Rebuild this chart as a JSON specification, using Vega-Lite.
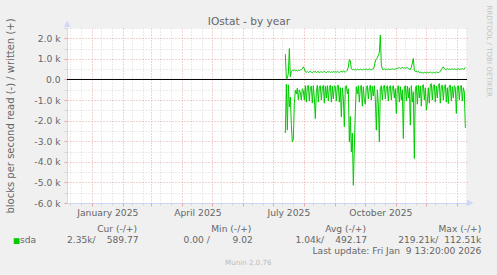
{
  "$schema": "https://vega.github.io/schema/vega-lite/v6.json",
  "background": "#f0f0f0",
  "autosize": {"type": "pad"},
  "padding": {"left": 5, "top": 5, "right": 5, "bottom": 9},
  "bounds": "flush",
  "spacing": 28.5,
  "config": {
    "font": "DejaVu Sans",
    "view": {"stroke": null},
    "axis": {"labelFont": "DejaVu Sans", "titleFont": "DejaVu Sans", "labelColor": "#666666", "titleColor": "#666666", "labelFontSize": 9.2, "titleFontWeight": "normal"},
    "text": {"font": "DejaVu Sans"}
  },
  "vconcat": [
    {
      "width": 400,
      "height": 175,
      "view": {"fill": "#ffffff", "stroke": null},
      "data": {"values": [
        {"d":"2025-07-13","r":-2600,"w":1230},{"d":"2025-07-14","r":-230,"w":40},{"d":"2025-07-15","r":-2460,"w":60},{"d":"2025-07-16","r":-260,"w":300},{"d":"2025-07-17","r":-1330,"w":1500},{"d":"2025-07-18","r":-850,"w":130},{"d":"2025-07-19","r":-2200,"w":400},{"d":"2025-07-20","r":-3030,"w":450},{"d":"2025-07-21","r":-2900,"w":420},{"d":"2025-07-22","r":-1170,"w":470},{"d":"2025-07-23","r":-520,"w":430},{"d":"2025-07-24","r":-700,"w":440},{"d":"2025-07-25","r":-420,"w":410},{"d":"2025-07-26","r":-980,"w":450},{"d":"2025-07-27","r":-500,"w":430},{"d":"2025-07-28","r":-620,"w":460},{"d":"2025-07-29","r":-1000,"w":480},{"d":"2025-07-30","r":-450,"w":520},{"d":"2025-07-31","r":-560,"w":615},
        {"d":"2025-08-01","r":-1000,"w":520},{"d":"2025-08-02","r":-300,"w":380},{"d":"2025-08-03","r":-1100,"w":350},{"d":"2025-08-04","r":-350,"w":390},{"d":"2025-08-05","r":-280,"w":340},{"d":"2025-08-06","r":-1050,"w":370},{"d":"2025-08-07","r":-400,"w":400},{"d":"2025-08-08","r":-320,"w":350},{"d":"2025-08-09","r":-1150,"w":330},{"d":"2025-08-10","r":-300,"w":380},{"d":"2025-08-11","r":-900,"w":360},{"d":"2025-08-12","r":-1900,"w":400},{"d":"2025-08-13","r":-600,"w":340},{"d":"2025-08-14","r":-280,"w":370},{"d":"2025-08-15","r":-1100,"w":390},{"d":"2025-08-16","r":-350,"w":320},{"d":"2025-08-17","r":-300,"w":360},{"d":"2025-08-18","r":-1000,"w":380},{"d":"2025-08-19","r":-420,"w":340},{"d":"2025-08-20","r":-280,"w":370},{"d":"2025-08-21","r":-1150,"w":400},{"d":"2025-08-22","r":-330,"w":350},{"d":"2025-08-23","r":-900,"w":330},{"d":"2025-08-24","r":-300,"w":380},{"d":"2025-08-25","r":-1050,"w":360},{"d":"2025-08-26","r":-380,"w":390},{"d":"2025-08-27","r":-280,"w":340},{"d":"2025-08-28","r":-1100,"w":370},{"d":"2025-08-29","r":-320,"w":350},{"d":"2025-08-30","r":-950,"w":380},{"d":"2025-08-31","r":-300,"w":360},
        {"d":"2025-09-01","r":-350,"w":370},{"d":"2025-09-02","r":-1050,"w":350},{"d":"2025-09-03","r":-300,"w":390},{"d":"2025-09-04","r":-280,"w":360},{"d":"2025-09-05","r":-1100,"w":340},{"d":"2025-09-06","r":-400,"w":380},{"d":"2025-09-07","r":-1820,"w":400},{"d":"2025-09-08","r":-400,"w":350},{"d":"2025-09-09","r":-900,"w":420},{"d":"2025-09-10","r":-2300,"w":380},{"d":"2025-09-11","r":-350,"w":360},{"d":"2025-09-12","r":-300,"w":400},{"d":"2025-09-13","r":-700,"w":450},{"d":"2025-09-14","r":-450,"w":600},{"d":"2025-09-15","r":-3030,"w":970},{"d":"2025-09-16","r":-1800,"w":900},{"d":"2025-09-17","r":-3520,"w":520},{"d":"2025-09-18","r":-2600,"w":480},{"d":"2025-09-19","r":-5140,"w":500},{"d":"2025-09-20","r":-3280,"w":470},{"d":"2025-09-21","r":-1540,"w":490},{"d":"2025-09-22","r":-350,"w":460},{"d":"2025-09-23","r":-700,"w":500},{"d":"2025-09-24","r":-300,"w":480},{"d":"2025-09-25","r":-1100,"w":470},{"d":"2025-09-26","r":-400,"w":510},{"d":"2025-09-27","r":-280,"w":480},{"d":"2025-09-28","r":-1300,"w":460},{"d":"2025-09-29","r":-350,"w":500},{"d":"2025-09-30","r":-1000,"w":490},
        {"d":"2025-10-01","r":-1200,"w":480},{"d":"2025-10-02","r":-350,"w":500},{"d":"2025-10-03","r":-300,"w":470},{"d":"2025-10-04","r":-950,"w":490},{"d":"2025-10-05","r":-400,"w":510},{"d":"2025-10-06","r":-280,"w":480},{"d":"2025-10-07","r":-1000,"w":470},{"d":"2025-10-08","r":-330,"w":500},{"d":"2025-10-09","r":-800,"w":520},{"d":"2025-10-10","r":-300,"w":650},{"d":"2025-10-11","r":-950,"w":900},{"d":"2025-10-12","r":-2460,"w":1000},{"d":"2025-10-13","r":-500,"w":1050},{"d":"2025-10-14","r":-1200,"w":1180},{"d":"2025-10-15","r":-3030,"w":1300},{"d":"2025-10-16","r":-400,"w":2150},{"d":"2025-10-17","r":-300,"w":700},{"d":"2025-10-18","r":-1000,"w":500},{"d":"2025-10-19","r":-350,"w":480},{"d":"2025-10-20","r":-280,"w":510},{"d":"2025-10-21","r":-950,"w":490},{"d":"2025-10-22","r":-420,"w":500},{"d":"2025-10-23","r":-300,"w":470},{"d":"2025-10-24","r":-1050,"w":510},{"d":"2025-10-25","r":-350,"w":490},{"d":"2025-10-26","r":-300,"w":480},{"d":"2025-10-27","r":-1000,"w":500},{"d":"2025-10-28","r":-380,"w":520},{"d":"2025-10-29","r":-300,"w":490},{"d":"2025-10-30","r":-900,"w":500},{"d":"2025-10-31","r":-450,"w":510},
        {"d":"2025-11-01","r":-1650,"w":520},{"d":"2025-11-02","r":-400,"w":540},{"d":"2025-11-03","r":-300,"w":560},{"d":"2025-11-04","r":-1100,"w":580},{"d":"2025-11-05","r":-350,"w":530},{"d":"2025-11-06","r":-1000,"w":560},{"d":"2025-11-07","r":-500,"w":590},{"d":"2025-11-08","r":-2870,"w":550},{"d":"2025-11-09","r":-350,"w":570},{"d":"2025-11-10","r":-300,"w":540},{"d":"2025-11-11","r":-1050,"w":560},{"d":"2025-11-12","r":-320,"w":580},{"d":"2025-11-13","r":-900,"w":520},{"d":"2025-11-14","r":-400,"w":500},{"d":"2025-11-15","r":-2220,"w":480},{"d":"2025-11-16","r":-300,"w":600},{"d":"2025-11-17","r":-1100,"w":800},{"d":"2025-11-18","r":-600,"w":1020},{"d":"2025-11-19","r":-3840,"w":450},{"d":"2025-11-20","r":-450,"w":380},{"d":"2025-11-21","r":-300,"w":420},{"d":"2025-11-22","r":-1200,"w":350},{"d":"2025-11-23","r":-280,"w":400},{"d":"2025-11-24","r":-900,"w":330},{"d":"2025-11-25","r":-320,"w":350},{"d":"2025-11-26","r":-1300,"w":320},{"d":"2025-11-27","r":-300,"w":340},{"d":"2025-11-28","r":-250,"w":300},{"d":"2025-11-29","r":-1000,"w":360},{"d":"2025-11-30","r":-400,"w":330},
        {"d":"2025-12-01","r":-1490,"w":330},{"d":"2025-12-02","r":-1100,"w":350},{"d":"2025-12-03","r":-400,"w":320},{"d":"2025-12-04","r":-1150,"w":340},{"d":"2025-12-05","r":-250,"w":360},{"d":"2025-12-06","r":-200,"w":330},{"d":"2025-12-07","r":-1000,"w":310},{"d":"2025-12-08","r":-300,"w":350},{"d":"2025-12-09","r":-250,"w":340},{"d":"2025-12-10","r":-1100,"w":320},{"d":"2025-12-11","r":-320,"w":360},{"d":"2025-12-12","r":-900,"w":340},{"d":"2025-12-13","r":-250,"w":330},{"d":"2025-12-14","r":-200,"w":350},{"d":"2025-12-15","r":-1150,"w":400},{"d":"2025-12-16","r":-300,"w":480},{"d":"2025-12-17","r":-280,"w":550},{"d":"2025-12-18","r":-1000,"w":615},{"d":"2025-12-19","r":-350,"w":520},{"d":"2025-12-20","r":-250,"w":480},{"d":"2025-12-21","r":-1100,"w":500},{"d":"2025-12-22","r":-400,"w":520},{"d":"2025-12-23","r":-1170,"w":490},{"d":"2025-12-24","r":-300,"w":510},{"d":"2025-12-25","r":-280,"w":480},{"d":"2025-12-26","r":-1050,"w":500},{"d":"2025-12-27","r":-350,"w":520},{"d":"2025-12-28","r":-900,"w":490},{"d":"2025-12-29","r":-300,"w":510},{"d":"2025-12-30","r":-400,"w":500},{"d":"2025-12-31","r":-1650,"w":480},
        {"d":"2026-01-01","r":-350,"w":500},{"d":"2026-01-02","r":-300,"w":520},{"d":"2026-01-03","r":-1000,"w":480},{"d":"2026-01-04","r":-380,"w":510},{"d":"2026-01-05","r":-280,"w":500},{"d":"2026-01-06","r":-1050,"w":530},{"d":"2026-01-07","r":-400,"w":490},{"d":"2026-01-08","r":-600,"w":510},{"d":"2026-01-09","r":-2350,"w":590}
      ]},
      "resolve": {"axis": {"x": "independent", "y": "independent"}},
      "layer": [
        {
          "mark": {"type": "line", "color": "#00cc00", "strokeWidth": 1},
          "encoding": {
            "x": {"field": "d", "type": "temporal",
              "scale": {"type": "utc", "domain": [{"year": 2024, "month": 12, "date": 6, "hours": 16, "utc": true}, {"year": 2026, "month": 1, "date": 10, "hours": 16, "utc": true}]},
              "axis": {"orient": "bottom", "title": null, "grid": false, "ticks": false, "tickSize": 0, "labelPadding": 5, "domain": true, "domainColor": "#CFD6F8", "labelFlush": false, "labelOverlap": false, "format": "%B %Y",
                "values": [{"year": 2025, "month": 1, "date": 16, "utc": true}, {"year": 2025, "month": 4, "date": 16, "utc": true}, {"year": 2025, "month": 7, "date": 16, "utc": true}, {"year": 2025, "month": 10, "date": 16, "utc": true}]}},
            "y": {"field": "r", "type": "quantitative",
              "scale": {"domain": [-6000, 2500], "nice": false, "zero": false},
              "axis": {"orient": "left", "values": [-6000, -5000, -4000, -3000, -2000, -1000, 0, 1000, 2000],
                "labelExpr": "datum.value == 0 ? '0.0' : (datum.value < 0 ? '-' : '') + format(abs(datum.value) / 1000, '.1f') + ' k'",
                "grid": true, "gridColor": "#eaa4a4", "gridDash": [1, 2], "gridOpacity": 1,
                "ticks": true, "tickSize": 3, "tickColor": "#eaa4a4", "labelPadding": 4, "labelBaseline": "middle",
                "domain": true, "domainColor": "#CFD6F8",
                "title": "blocks per second read (-) / written (+)", "titleFontSize": 10, "titleX": -53.5, "titleY": 87.5, "titleAngle": 270, "titleAlign": "center", "titleBaseline": "alphabetic"}}
          }
        },
        {
          "mark": {"type": "line", "color": "#00cc00", "strokeWidth": 1},
          "encoding": {
            "x": {"field": "d", "type": "temporal", "scale": {"type": "utc"},
              "axis": {"orient": "bottom", "title": null, "labels": false, "domain": false, "ticks": true, "tickSize": 3, "tickColor": "#eaa4a4",
                "grid": true, "gridColor": "#eaa4a4", "gridDash": [1, 2], "gridOpacity": 1,
                "values": [{"year": 2025, "month": 1, "date": 1, "utc": true}, {"year": 2025, "month": 2, "date": 1, "utc": true}, {"year": 2025, "month": 3, "date": 1, "utc": true}, {"year": 2025, "month": 4, "date": 1, "utc": true}, {"year": 2025, "month": 5, "date": 1, "utc": true}, {"year": 2025, "month": 6, "date": 1, "utc": true}, {"year": 2025, "month": 7, "date": 1, "utc": true}, {"year": 2025, "month": 8, "date": 1, "utc": true}, {"year": 2025, "month": 9, "date": 1, "utc": true}, {"year": 2025, "month": 10, "date": 1, "utc": true}, {"year": 2025, "month": 11, "date": 1, "utc": true}, {"year": 2025, "month": 12, "date": 1, "utc": true}, {"year": 2026, "month": 1, "date": 1, "utc": true}]}},
            "y": {"field": "w", "type": "quantitative",
              "axis": {"orient": "left", "title": null, "labels": false, "domain": false, "ticks": true, "tickSize": 3, "tickColor": "#d6d6d6",
                "grid": true, "gridColor": "#d6d6d6", "gridDash": [1, 2], "gridOpacity": 1,
                "values": [-5500, -4500, -3500, -2500, -1500, -500, 500, 1500, 2500]}}
          }
        },
        {
          "data": {"values": [{"zero": 0}]},
          "mark": {"type": "rule", "color": "#000000", "strokeWidth": 1},
          "encoding": {"y": {"datum": 0, "type": "quantitative", "axis": null}}
        },
        {
          "data": {"values": [{"arrow": "up"}]},
          "mark": {"type": "text", "text": "▲", "color": "#CFD6F8", "fontSize": 8, "baseline": "bottom", "align": "center"},
          "encoding": {
            "x": {"datum": {"year": 2024, "month": 12, "date": 6, "hours": 16, "utc": true}, "type": "temporal", "scale": {"type": "utc"},
              "axis": {"orient": "bottom", "title": null, "labels": false, "domain": false, "ticks": true, "tickSize": 2, "tickColor": "#d6d6d6",
                "grid": true, "gridColor": "#d6d6d6", "gridDash": [1, 2], "gridOpacity": 1,
                "values": [{"year": 2024, "month": 12, "date": 10, "utc": true}, {"year": 2024, "month": 12, "date": 21, "utc": true}, {"year": 2025, "month": 1, "date": 10, "utc": true}, {"year": 2025, "month": 1, "date": 21, "utc": true}, {"year": 2025, "month": 2, "date": 10, "utc": true}, {"year": 2025, "month": 2, "date": 21, "utc": true}, {"year": 2025, "month": 3, "date": 10, "utc": true}, {"year": 2025, "month": 3, "date": 21, "utc": true}, {"year": 2025, "month": 4, "date": 10, "utc": true}, {"year": 2025, "month": 4, "date": 21, "utc": true}, {"year": 2025, "month": 5, "date": 10, "utc": true}, {"year": 2025, "month": 5, "date": 21, "utc": true}, {"year": 2025, "month": 6, "date": 10, "utc": true}, {"year": 2025, "month": 6, "date": 21, "utc": true}, {"year": 2025, "month": 7, "date": 10, "utc": true}, {"year": 2025, "month": 7, "date": 21, "utc": true}, {"year": 2025, "month": 8, "date": 10, "utc": true}, {"year": 2025, "month": 8, "date": 21, "utc": true}, {"year": 2025, "month": 9, "date": 10, "utc": true}, {"year": 2025, "month": 9, "date": 21, "utc": true}, {"year": 2025, "month": 10, "date": 10, "utc": true}, {"year": 2025, "month": 10, "date": 21, "utc": true}, {"year": 2025, "month": 11, "date": 10, "utc": true}, {"year": 2025, "month": 11, "date": 21, "utc": true}, {"year": 2025, "month": 12, "date": 10, "utc": true}, {"year": 2025, "month": 12, "date": 21, "utc": true}, {"year": 2026, "month": 1, "date": 10, "utc": true}]}},
            "y": {"datum": 2500, "type": "quantitative",
              "axis": {"orient": "right", "labels": false, "ticks": false, "domain": false, "grid": false,
                "title": "RRDTOOL / TOBI OETIKER", "titleFontSize": 7.1, "titleColor": "#c4c4c4", "titleAngle": 90, "titleAlign": "left", "titleBaseline": "middle", "titleX": 21.5, "titleY": -23}}
          }
        },
        {
          "data": {"values": [{"arrow": "right"}]},
          "mark": {"type": "text", "text": "▶", "color": "#CFD6F8", "fontSize": 8, "baseline": "middle", "align": "left"},
          "encoding": {
            "x": {"datum": {"year": 2026, "month": 1, "date": 10, "hours": 16, "utc": true}, "type": "temporal", "scale": {"type": "utc"},
              "axis": {"orient": "top", "labels": false, "ticks": false, "domain": false, "grid": false,
                "title": "IOstat - by year", "titleFontSize": 10.6, "titleColor": "#666666", "titleX": 181.5, "titleY": -4, "titleAlign": "center", "titleBaseline": "alphabetic", "titleAngle": 0}},
            "y": {"datum": -6000, "type": "quantitative", "axis": null}
          }
        }
      ]
    },
    {
      "width": 400,
      "height": 33,
      "view": {"fill": null, "stroke": null},
      "data": {"values": [
        {"c": "Cur", "row": "h", "k": "head", "t": "Cur (-/+)"},
        {"c": "Min", "row": "h", "k": "head", "t": "Min (-/+)"},
        {"c": "Avg", "row": "h", "k": "head", "t": "Avg (-/+)"},
        {"c": "Max", "row": "h", "k": "head", "t": "Max (-/+)"},
        {"c": "Cur", "row": "s", "k": "read", "t": "2.35k/"},
        {"c": "Min", "row": "s", "k": "read", "t": "0.00 /"},
        {"c": "Avg", "row": "s", "k": "read", "t": "1.04k/"},
        {"c": "Max", "row": "s", "k": "read", "t": "219.21k/"},
        {"c": "Cur", "row": "s", "k": "write", "t": "589.77"},
        {"c": "Min", "row": "s", "k": "write", "t": "9.02"},
        {"c": "Avg", "row": "s", "k": "write", "t": "492.17"},
        {"c": "Max", "row": "s", "k": "write", "t": "112.51k"},
        {"c": "Max", "row": "u", "k": "write", "t": "Last update: Fri Jan\u00a0 9 13:20:00 2026"},
        {"c": "Cur", "row": "s", "k": "name", "t": "sda"},
        {"c": "Cur", "row": "s", "k": "swatch", "t": "■"},
        {"c": "Min", "row": "m", "k": "ver", "t": "Munin 2.0.76"}
      ]},
      "encoding": {
        "x": {"field": "c", "type": "nominal", "scale": {"type": "point", "domain": ["Cur", "Min", "Avg", "Max"], "padding": 0.25, "align": 0.8757}, "axis": null},
        "y": {"field": "row", "type": "nominal", "scale": {"type": "point", "domain": ["h", "s", "u", "m"], "padding": 0}, "axis": null},
        "text": {"field": "t"}
      },
      "layer": [
        {"transform": [{"filter": "datum.k == 'head'"}], "mark": {"type": "text", "align": "center", "baseline": "alphabetic", "fontSize": 9.1, "color": "#666666"}},
        {"transform": [{"filter": "datum.k == 'read'"}], "mark": {"type": "text", "align": "right", "baseline": "alphabetic", "fontSize": 9.1, "color": "#666666", "dx": -21.5}},
        {"transform": [{"filter": "datum.k == 'write'"}], "mark": {"type": "text", "align": "right", "baseline": "alphabetic", "fontSize": 9.1, "color": "#666666", "dx": 21.5}},
        {"transform": [{"filter": "datum.k == 'name'"}], "mark": {"type": "text", "align": "left", "baseline": "alphabetic", "fontSize": 9.1, "color": "#666666", "dx": -97}},
        {"transform": [{"filter": "datum.k == 'swatch'"}], "mark": {"type": "text", "align": "center", "baseline": "alphabetic", "fontSize": 7.5, "color": "#00cc00", "dx": -100.5}},
        {"transform": [{"filter": "datum.k == 'ver'"}], "mark": {"type": "text", "align": "center", "baseline": "alphabetic", "fontSize": 7.1, "color": "#bbbbbb", "dx": 17}}
      ]
    }
  ]
}
